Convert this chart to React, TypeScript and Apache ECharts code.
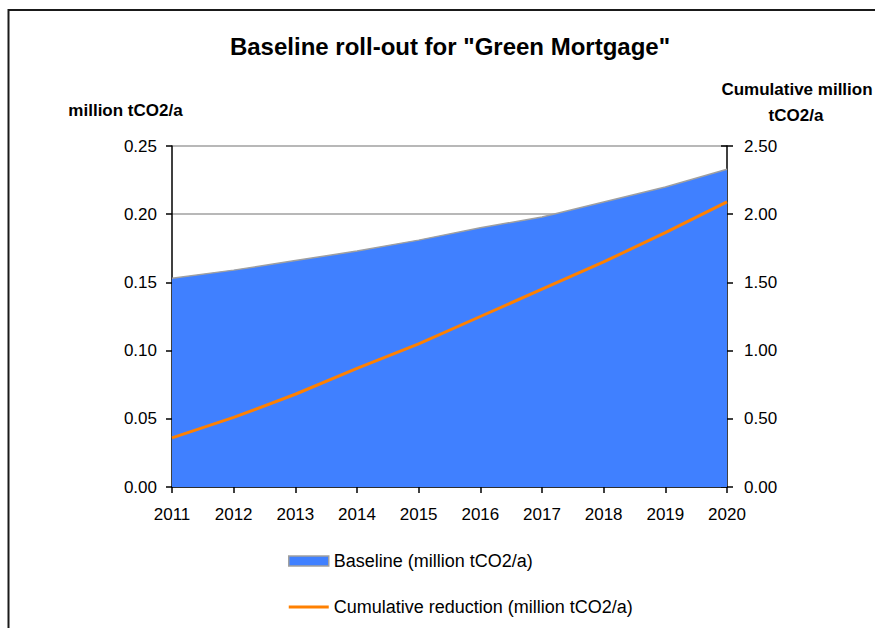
import React, { useEffect, useRef } from "react";
import * as echarts from "echarts";

const years = ["2011", "2012", "2013", "2014", "2015", "2016", "2017", "2018", "2019", "2020"];
const baseline = [0.153, 0.159, 0.166, 0.173, 0.181, 0.19, 0.198, 0.209, 0.22, 0.233];
const cumulative = [0.36, 0.51, 0.68, 0.87, 1.05, 1.25, 1.45, 1.65, 1.865, 2.09];

const titleText = 'Baseline roll-out for "Green Mortgage"';
const leftAxisName = "million tCO2/a";
const rightAxisName = ["Cumulative million", "tCO2/a"];
const baselineName = "Baseline (million tCO2/a)";
const cumulativeName = "Cumulative reduction (million tCO2/a)";

const FONT = "'Liberation Sans', Arial, sans-serif";

export default function App() {
  const ref = useRef<HTMLDivElement>(null);
  useEffect(() => {
    if (!ref.current) return;
    const chart = echarts.init(ref.current, undefined, { renderer: "svg" });
    chart.setOption({
      animation: false,
      backgroundColor: "#ffffff",
      textStyle: { fontFamily: FONT },
      title: {
        text: titleText,
        left: 445,
        top: 29,
        textAlign: "center",
        textStyle: { fontFamily: FONT, fontSize: 24, fontWeight: "bold", color: "#000" },
      },
      graphic: [
        { type: "line", shape: { x1: 8, y1: 10, x2: 875, y2: 10 }, style: { stroke: "#1a1a1a", lineWidth: 2 } },
        { type: "line", shape: { x1: 8.5, y1: 9, x2: 8.5, y2: 628 }, style: { stroke: "#1a1a1a", lineWidth: 2 } },
        {
          type: "text",
          x: 125.5,
          y: 110,
          style: { text: leftAxisName, font: `bold 17px ${FONT}`, fill: "#000", align: "center", verticalAlign: "middle" },
        },
        {
          type: "text",
          x: 797,
          y: 89,
          style: { text: rightAxisName[0], font: `bold 17px ${FONT}`, fill: "#000", align: "center", verticalAlign: "middle" },
        },
        {
          type: "text",
          x: 796,
          y: 115,
          style: { text: rightAxisName[1], font: `bold 17px ${FONT}`, fill: "#000", align: "center", verticalAlign: "middle" },
        },
      ],
      legend: {
        orient: "vertical",
        left: 283,
        top: 547,
        itemWidth: 40,
        itemHeight: 10,
        itemGap: 28,
        itemTextGap: 7,
        symbolKeepAspect: true,
        textStyle: { fontFamily: FONT, fontSize: 18, color: "#000" },
        data: [
          { name: baselineName, icon: "rect", itemStyle: { color: "#4080ff", borderColor: "#a0a0a0", borderWidth: 1.5 } },
          { name: cumulativeName, icon: "path://M0,0H40V3H0Z", itemStyle: { color: "#ff8000" } },
        ],
      },
      grid: { left: 172, right: 148, top: 146, bottom: 141, containLabel: false },
      xAxis: {
        type: "category",
        data: years,
        boundaryGap: false,
        axisLine: { lineStyle: { color: "#000", width: 1.5 } },
        axisTick: { show: true, length: 6, alignWithLabel: true, lineStyle: { color: "#000", width: 1.5 } },
        axisLabel: { color: "#000", fontSize: 17, fontFamily: FONT, margin: 19 },
        splitLine: { show: false },
      },
      yAxis: [
        {
          type: "value",
          min: 0,
          max: 0.25,
          interval: 0.05,
          position: "left",
          axisLine: { show: true, lineStyle: { color: "#000", width: 1.5 } },
          axisTick: { show: true, length: 6, lineStyle: { color: "#000", width: 1.5 } },
          axisLabel: { color: "#000", fontSize: 17, fontFamily: FONT, margin: 15, formatter: (v: number) => v.toFixed(2) },
          splitLine: { show: true, lineStyle: { color: "#a0a0a0", width: 1.5 } },
        },
        {
          type: "value",
          min: 0,
          max: 2.5,
          interval: 0.5,
          position: "right",
          axisLine: { show: true, lineStyle: { color: "#000", width: 1.5 } },
          axisTick: { show: true, length: 6, lineStyle: { color: "#000", width: 1.5 } },
          axisLabel: { color: "#000", fontSize: 17, fontFamily: FONT, margin: 17, formatter: (v: number) => v.toFixed(2) },
          splitLine: { show: false },
        },
        {
          type: "value",
          min: 0,
          max: 2.5,
          interval: 0.5,
          position: "right",
          axisLine: { show: false },
          axisTick: { show: true, inside: true, length: 6, lineStyle: { color: "#000", width: 1.5 } },
          axisLabel: { show: false },
          splitLine: { show: false },
        },
      ],
      series: [
        {
          name: baselineName,
          type: "line",
          data: baseline,
          yAxisIndex: 0,
          symbol: "none",
          smooth: false,
          lineStyle: { color: "#a0a0a0", width: 1.5 },
          itemStyle: { color: "#4080ff" },
          areaStyle: { color: "#4080ff", opacity: 1 },
          z: 2,
        },
        {
          name: cumulativeName,
          type: "line",
          data: cumulative,
          yAxisIndex: 1,
          symbol: "none",
          lineStyle: { color: "#ff8000", width: 3 },
          itemStyle: { color: "#ff8000" },
          z: 3,
        },
      ],
    });
    return () => chart.dispose();
  }, []);
  return <div ref={ref} style={{ position: "fixed", left: 0, top: 0, width: 875, height: 628 }} />;
}
